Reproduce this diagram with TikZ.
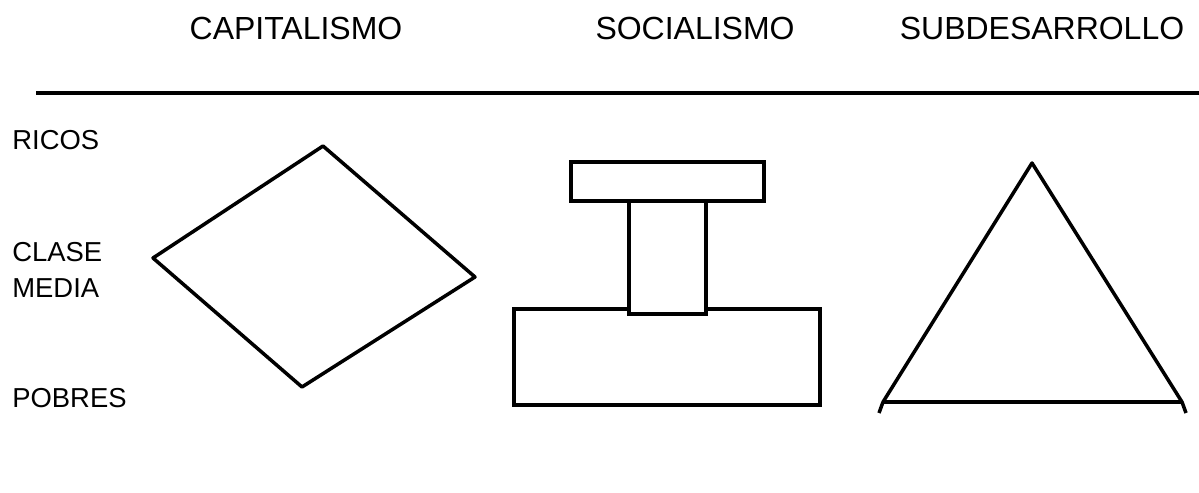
\documentclass[tikz,border=0pt]{standalone}
\usepackage{fontspec}
\setmainfont{Liberation Sans}
\usepackage{tikz}

\tikzset{
	header/.style={font=\fontsize{18.2}{22}\selectfont, anchor=base, inner sep=0pt},
	level/.style={font=\fontsize{15.6}{20.4}\selectfont, anchor=base west, align=left, inner sep=0pt},
	figline/.style={line width=2pt, line join=round},
	boxline/.style={line width=2pt, line join=miter}
}

\begin{document}
\begin{tikzpicture}[x=0.02cm, y=-0.02cm]

	\useasboundingbox (0,0) rectangle (1199,493);

	% headers and rule
	\node[header] (cap) at (296,40) {CAPITALISMO};
	\node[header] (soc) at (695,40) {SOCIALISMO};
	\node[header] (sub) at (1042,40) {SUBDESARROLLO};
	\draw[line width=2.6pt] (36,93) -- (1199,93);

	% social levels
	\node[level] (ricos) at (12,150) {RICOS};
	\node[level] (media) at (12,297) {CLASE\\MEDIA};
	\node[level] (pobres) at (12,407) {POBRES};

	% capitalismo
	\coordinate (dt) at (323,146);
	\coordinate (dl) at (153,258);
	\coordinate (db) at (302,387);
	\coordinate (dr) at (475,277);
	\draw[figline] (dt) -- (dl) -- (db) -- (dr) -- cycle;

	% socialismo
	\coordinate (bar1) at (571,162);
	\coordinate (bar2) at (764,201);
	\draw[boxline] (bar1) rectangle (bar2);
	\coordinate (col1) at (629,201);
	\coordinate (col2) at (629,314);
	\coordinate (col3) at (706,314);
	\coordinate (col4) at (706,201);
	\draw[boxline] (col1) -- (col2) -- (col3) -- (col4);
	\coordinate (base1) at (514,309);
	\coordinate (base2) at (820,405);
	\draw[boxline] (col2 |- base1) -- (base1) |- (base2) |- (col3 |- base1);

	% subdesarrollo
	\coordinate (ta) at (1032,163);
	\coordinate (tl) at (883,402);
	\coordinate (tr) at (1182,402);
	\draw[figline] (ta) -- (tl) -- (tr) -- cycle;
	\draw[figline] (tl) -- ++(-4,11);
	\draw[figline] (tr) -- ++(4,11);

\end{tikzpicture}
\end{document}
